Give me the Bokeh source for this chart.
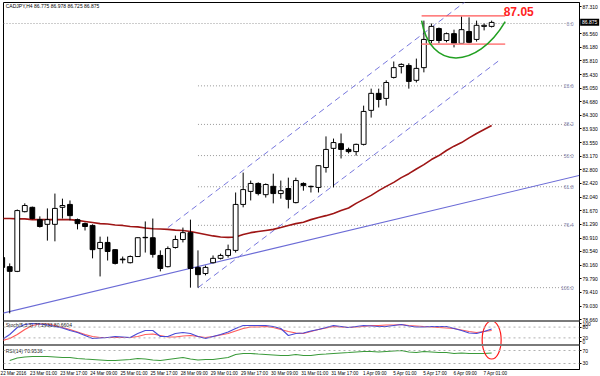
from bokeh.plotting import figure
from bokeh.models import Range1d, FixedTicker, Span
from bokeh.core.properties import value
from bokeh.embed import file_html
from bokeh.resources import INLINE

# ---------------- data ----------------
symbol_header = "CADJPY,H4  86.775 86.978 86.725 86.875"
stoch_header = "Stoch(5,3,3) 77.2933 80.6604"
rsi_header = "RSI(14) 70.9536"

opens = [80.37, 80.12, 79.99, 81.64, 81.76, 81.42, 81.29, 81.29, 81.76, 81.84,
         81.42, 81.31, 81.26, 80.62, 80.79, 80.59, 80.33, 80.23, 80.40, 80.93,
         80.92, 80.43, 80.12, 80.65, 80.87, 81.06, 80.10, 79.93, 80.23, 80.35,
         80.43, 80.57, 81.84, 82.20, 82.42, 82.11, 82.34, 82.14, 82.28, 81.89,
         82.42, 82.34, 82.31, 82.86, 83.39, 83.52, 83.36, 83.30, 83.50, 84.44,
         84.91, 84.77, 85.35, 85.65, 85.68, 85.27, 85.62, 86.37, 86.70, 86.37,
         86.56, 86.29, 86.62, 86.40, 86.76, 86.76]
highs = [80.68, 80.21, 81.70, 81.87, 81.78, 81.51, 81.73, 82.14, 82.00, 81.95,
         81.45, 81.34, 81.29, 80.95, 80.95, 80.60, 80.40, 80.43, 80.93, 81.37,
         81.45, 80.57, 80.68, 80.98, 81.20, 81.42, 80.57, 80.15, 80.43, 80.48,
         80.73, 82.17, 82.72, 82.50, 82.45, 82.42, 82.69, 82.50, 82.58, 82.58,
         82.45, 82.36, 82.92, 83.72, 83.66, 83.80, 83.41, 83.52, 84.57, 85.04,
         85.04, 85.27, 85.79, 85.74, 85.74, 85.87, 86.92, 86.84, 86.73, 86.59,
         86.67, 87.03, 87.01, 86.92, 86.84, 86.92]
lows = [80.01, 78.83, 79.97, 81.62, 81.43, 81.20, 80.84, 80.82, 81.45, 81.40,
        81.15, 81.12, 80.35, 79.85, 80.29, 80.18, 80.21, 80.21, 80.39, 80.51,
        80.37, 79.99, 80.10, 80.62, 80.79, 79.54, 79.54, 79.88, 80.21, 80.32,
        80.37, 80.51, 81.76, 81.95, 82.09, 82.03, 81.87, 82.00, 81.73, 81.87,
        82.22, 82.17, 82.17, 82.72, 82.31, 83.11, 83.25, 83.19, 83.47, 84.24,
        84.52, 84.57, 85.32, 85.46, 85.04, 85.21, 85.49, 86.29, 86.29, 86.32,
        86.18, 86.28, 86.29, 86.34, 86.65, 86.73]
closes = [80.10, 79.99, 81.67, 81.81, 81.45, 81.23, 81.42, 81.73, 81.81, 81.53,
          81.31, 81.23, 80.59, 80.79, 80.54, 80.21, 80.31, 80.40, 80.92, 80.92,
          80.46, 80.07, 80.62, 80.87, 81.06, 80.07, 79.90, 80.10, 80.35, 80.43,
          80.59, 81.84, 82.25, 82.42, 82.14, 82.39, 82.14, 82.22, 81.98, 82.50,
          82.36, 82.33, 82.91, 83.36, 83.55, 83.36, 83.30, 83.50, 84.41, 84.91,
          84.74, 85.21, 85.62, 85.71, 85.24, 85.60, 86.40, 86.76, 86.37, 86.56,
          86.29, 86.67, 86.32, 86.79, 86.79, 86.87]
moving_avg = [81.45, 81.45, 81.44, 81.44, 81.42, 81.42, 81.42, 81.42, 81.42, 81.42,
              81.40, 81.37, 81.34, 81.31, 81.30, 81.27, 81.26, 81.23, 81.22, 81.19,
              81.17, 81.16, 81.15, 81.13, 81.12, 81.09, 81.05, 81.01, 80.97, 80.94,
              80.93, 80.94, 81.01, 81.06, 81.09, 81.12, 81.15, 81.20, 81.26, 81.31,
              81.35, 81.42, 81.48, 81.53, 81.59, 81.67, 81.74, 81.87, 81.98, 82.09,
              82.22, 82.34, 82.45, 82.58, 82.69, 82.82, 82.94, 83.08, 83.19, 83.33,
              83.45, 83.55, 83.68, 83.80, 83.91, 84.02]
stoch_main = [11.1, 38.9, 77.8, 94.4, 100.0, 97.2, 91.7, 83.3, 75.0, 61.1,
              50.0, 33.3, 16.7, 19.4, 22.2, 27.8, 25.0, 22.2, 44.4, 61.1,
              61.1, 27.8, 27.8, 44.4, 50.0, 44.4, 27.8, 16.7, 27.8, 38.9,
              52.8, 72.2, 88.9, 88.9, 88.9, 88.9, 83.3, 72.2, 33.3, 44.4,
              47.2, 58.3, 66.7, 77.8, 88.9, 83.3, 77.8, 83.3, 88.9, 86.1,
              83.3, 83.3, 88.9, 94.4, 86.1, 80.6, 80.6, 83.3, 83.3, 83.3,
              72.2, 61.1, 47.2, 44.4, 55.6, 69.4]
stoch_signal = [5.6, 16.7, 38.9, 66.7, 88.9, 97.2, 97.2, 88.9, 77.8, 66.7,
                52.8, 38.9, 27.8, 22.2, 22.2, 22.2, 22.2, 22.2, 27.8, 38.9,
                41.7, 33.3, 25.0, 25.0, 30.6, 33.3, 27.8, 22.2, 27.8, 36.1,
                44.4, 58.3, 72.2, 80.6, 80.6, 83.3, 77.8, 66.7, 55.6, 47.2,
                44.4, 55.6, 66.7, 75.0, 83.3, 80.6, 77.8, 80.6, 83.3, 88.9,
                88.9, 91.7, 91.7, 94.4, 88.9, 86.1, 83.3, 80.6, 77.8, 75.0,
                72.2, 63.9, 55.6, 50.0, 55.6, 61.1]
rsi = [float("nan"), 39.2, 46.9, 50.0, 51.5, 51.5, 51.5, 50.0, 48.5, 48.5,
       45.4, 43.8, 42.3, 40.8, 39.2, 39.2, 40.8, 42.3, 45.4, 43.8,
       40.8, 39.2, 42.3, 45.4, 48.5, 43.8, 40.8, 42.3, 42.3, 45.4,
       48.5, 57.7, 60.8, 60.8, 59.2, 57.7, 56.2, 54.6, 54.6, 57.7,
       54.6, 54.6, 57.7, 59.2, 60.8, 62.3, 63.8, 65.4, 66.9, 66.9,
       65.4, 66.9, 68.5, 70.0, 65.4, 63.8, 66.9, 65.4, 63.8, 63.8,
       60.8, 62.3, 60.8, 60.8, 60.8, 62.3]

time_labels = ["22 Mar 2016", "23 Mar 01:00", "23 Mar 17:00", "24 Mar 09:00",
               "25 Mar 01:00", "25 Mar 17:00", "28 Mar 09:00", "29 Mar 01:00",
               "29 Mar 17:00", "30 Mar 09:00", "31 Mar 01:00", "31 Mar 17:00",
               "1 Apr 09:00", "5 Apr 01:00", "5 Apr 17:00", "6 Apr 09:00",
               "7 Apr 01:00"]
time_label_bars = list(range(0, 65, 4))

price_ticks = [87.310, 86.560, 86.180, 85.810, 85.430, 85.050, 84.680, 84.300,
               83.930, 83.550, 83.170, 82.800, 82.420, 82.040, 81.670, 81.290,
               80.910, 80.540, 80.160, 79.790, 79.410, 79.030, 78.660]
stoch_ticks = [100, 80, 20, 0]
stoch_levels = [80, 20]
rsi_ticks = [70, 30]
rsi_levels = [70, 30]

fib_levels = [0.0, 23.6, 38.2, 50.0, 61.8, 76.4, 100.0]
fib_high, fib_low = 86.84, 79.54
fib_start_bar = 26

trend_bars, trend_prices = [0, 77.2], [78.83, 82.67]
upper_channel_bars, upper_channel_prices = [22, 63], [81.20, 87.68]
lower_channel_bars, lower_channel_prices = [26, 66], [79.54, 85.82]
level_bars = [55.7, 66.8]
resistance_price = 87.05
support_price = 86.27
cup_start, cup_end = (55.7, 86.92), (66.8, 86.89)
cup_ctrl1, cup_ctrl2 = (56.8, 85.55), (63.0, 85.55)
last_price = 86.875

# ---------------- layout helpers ----------------
FRAME_TOP, FRAME_BOTTOM = 2, 369       # canvas pixel rows of the plot frame
FRAME_LEFT, FRAME_W, FRAME_H = 3, 576, 367
BAR0_PX, BAR_STEP_PX = 1.7, 7.53        # canvas column of bar 0, spacing of bars


def frame_range(py_a, v_a, py_b, v_b):
    k = (v_b - v_a) / (py_b - py_a)
    return Range1d(start=v_a + k * (FRAME_BOTTOM - py_a), end=v_a + k * (FRAME_TOP - py_a))


def main_at(py):
    return 87.31 + (78.66 - 87.31) / (319 - 6) * (py - 6)


x_start = (FRAME_LEFT - BAR0_PX) / BAR_STEP_PX
x_end = (FRAME_LEFT + FRAME_W - BAR0_PX) / BAR_STEP_PX

FONT = value("Liberation Sans")

p = figure(frame_width=FRAME_W, frame_height=FRAME_H, output_backend="svg",
           toolbar_location=None, y_axis_location="right",
           min_border_left=FRAME_LEFT, min_border_top=FRAME_TOP, min_border_right=0,
           min_border_bottom=0,
           x_range=Range1d(x_start, x_end), y_range=frame_range(6, 87.31, 319, 78.66))
p.extra_y_ranges = {"stoch": frame_range(323, 100, 341, 0),
                    "rsi": frame_range(350, 70, 363, 30)}
p.xgrid.visible = False
p.ygrid.visible = False
p.outline_line_color = "black"
p.outline_line_width = 1
p.background_fill_color = "white"
p.border_fill_color = "white"

n = len(opens)
bars = list(range(n))

# ---------------- main panel ----------------
fib_prices = [fib_high - lv / 100.0 * (fib_high - fib_low) for lv in fib_levels]
fib_end = x_end - 0.8
for lv, fp in zip(fib_levels, fib_prices):
    x0 = x_start if lv == 0.0 else fib_start_bar
    p.line([x0, fib_end], [fp, fp], line_color="#9a9a9a", line_dash="1 2", line_width=1)
p.text(x=[fib_end] * len(fib_levels), y=fib_prices, text=[f"{lv:.1f}" for lv in fib_levels],
       text_align="right", text_baseline="middle", text_font=FONT,
       text_font_size="5px", text_color="#7c7ca8")

p.line(trend_bars, trend_prices, line_color="#6b6bd6", line_width=1.1)
p.line(upper_channel_bars, upper_channel_prices, line_color="#7777dd", line_width=1,
       line_dash="6 4")
p.line(lower_channel_bars, lower_channel_prices, line_color="#7777dd", line_width=1,
       line_dash="6 4")

p.line(bars, moving_avg, line_color="#9e1515", line_width=1.6)

up = [c >= o for o, c in zip(opens, closes)]
p.segment(bars, highs, bars, lows, line_color="black", line_width=1)
p.vbar(x=bars, top=[max(o, c) for o, c in zip(opens, closes)],
       bottom=[min(o, c) for o, c in zip(opens, closes)], width=0.64,
       fill_color=["white" if u else "black" for u in up], line_color="black",
       line_width=1)

p.line(level_bars, [resistance_price] * 2, line_color="#ff2a2a", line_width=1)
p.line(level_bars, [support_price] * 2, line_color="#ff8c8c", line_width=1.6)
p.bezier(x0=[cup_start[0]], y0=[cup_start[1]], x1=[cup_end[0]], y1=[cup_end[1]],
         cx0=[cup_ctrl1[0]], cy0=[cup_ctrl1[1]], cx1=[cup_ctrl2[0]], cy1=[cup_ctrl2[1]],
         line_color="#22a022", line_width=1.6)
p.text(x=[level_bars[1] - 0.2], y=[resistance_price], text=[f"{resistance_price:.2f}"],
       text_align="left", text_baseline="bottom", text_font=FONT,
       text_font_size="12px", text_font_style="bold", text_color="#ff2222")

p.text(x=[x_start + 0.3], y=[main_at(5.5)], text=[symbol_header], text_align="left",
       text_baseline="middle", text_font=FONT, text_font_size="5px", text_color="black")

for py in (320.5, 344.5):
    p.add_layout(Span(location=main_at(py), dimension="width", line_color="#7a7a7a",
                      line_width=2))

# ---------------- stochastic panel ----------------
for lv in stoch_levels:
    p.add_layout(Span(location=lv, dimension="width", y_range_name="stoch",
                      line_color="#b0b0b0", line_dash="2 3", line_width=1))
p.line(bars, stoch_signal, y_range_name="stoch", line_color="#ff5a5a", line_width=1.2)
p.line(bars, stoch_main, y_range_name="stoch", line_color="#4a4ad6", line_width=1.1)
p.text(x=[x_start + 0.3], y=[88.9], y_range_name="stoch", text=[stoch_header],
       text_align="left", text_baseline="middle", text_font=FONT, text_font_size="5px",
       text_color="#222222")

# ---------------- RSI panel ----------------
for lv in rsi_levels:
    p.add_layout(Span(location=lv, dimension="width", y_range_name="rsi",
                      line_color="#b0b0b0", line_dash="2 3", line_width=1))
p.line(bars, rsi, y_range_name="rsi", line_color="#3a9a3a", line_width=1.1)
p.text(x=[x_start + 0.3], y=[70.0], y_range_name="rsi", text=[rsi_header],
       text_align="left", text_baseline="middle", text_font=FONT, text_font_size="5px",
       text_color="#222222")

p.ellipse(x=[bars[-1]], y=[8.3], width=19, height=38, width_units="screen",
          height_units="screen", y_range_name="stoch", fill_color=None,
          line_color="#ff1a1a", line_width=1.2)

# ---------------- axes ----------------
sr = p.extra_y_ranges["stoch"]
rr = p.extra_y_ranges["rsi"]
mr = p.y_range


def to_main(v, rng):
    frac = (v - rng.start) / (rng.end - rng.start)
    return round(mr.start + frac * (mr.end - mr.start), 6)


ticks, overrides = [], {}
for t in price_ticks:
    ticks.append(t)
    overrides[t] = f"{t:.3f}"
for t in stoch_ticks:
    m = to_main(t, sr)
    ticks.append(m)
    overrides[m] = str(t)
for t in rsi_ticks:
    m = to_main(t, rr)
    ticks.append(m)
    overrides[m] = str(t)

ya = p.yaxis[0]
ya.ticker = FixedTicker(ticks=ticks)
ya.major_label_overrides = overrides
ya.major_label_text_font_size = "5px"
ya.major_label_text_font = "Liberation Sans"
ya.major_label_text_color = "black"
ya.major_label_standoff = 1
ya.major_tick_out = 2
ya.major_tick_in = 0
ya.minor_tick_line_color = None
ya.axis_line_color = "black"

xa = p.xaxis[0]
xticks = [b + 1.5 for b in time_label_bars]
xa.ticker = FixedTicker(ticks=xticks)
xa.major_label_overrides = {t: s for t, s in zip(xticks, time_labels)}
xa.major_label_text_font_size = "4.6px"
xa.major_label_text_font = "Liberation Sans"
xa.major_label_text_color = "black"
xa.major_label_standoff = 1
xa.major_tick_line_color = None
xa.major_tick_out = 0
xa.minor_tick_line_color = None
xa.axis_line_color = None

# current price tag on the price scale (drawn at overlay level so it is not clipped)
tag_x = x_end + 1.35
p.rect(x=[tag_x], y=[last_price], width=19, height=7, width_units="screen",
       height_units="screen", fill_color="black", line_color=None, level="overlay")
p.text(x=[tag_x], y=[last_price], text=[f"{last_price:.3f}"], text_align="center",
       text_baseline="middle", text_font=FONT, text_font_size="5px",
       text_color="white", level="overlay")

open("out.html", "w").write(file_html(p, INLINE))
